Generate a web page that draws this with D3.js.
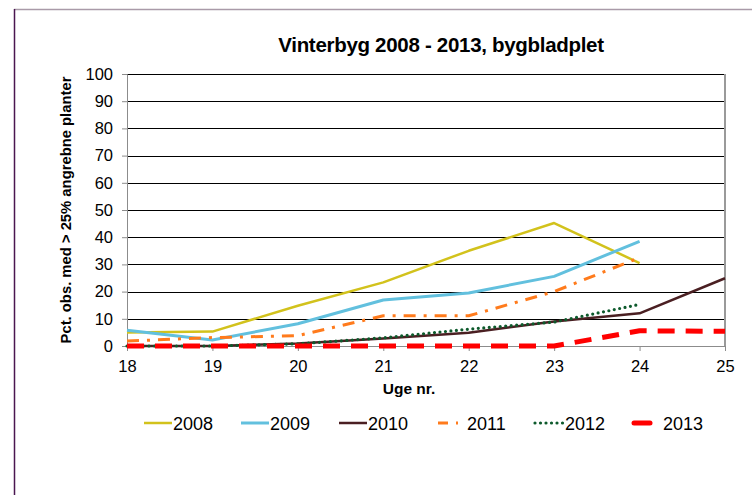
<!DOCTYPE html>
<html><head>
<meta charset="utf-8">
<script src="https://d3js.org/d3.v7.min.js"></script>
<style>
  body { margin: 0; background: #fff; }
  text { font-family: "Liberation Sans", Arial, sans-serif; fill: #000; }
  .grid line { stroke: #000; stroke-width: 1px; }
  .axis path, .axis line { stroke: #8c8c8c; }
  .axis text { font-size: 16.5px; }
</style>
</head>
<body>
<script>
// weeks on the x axis
const weeks = [18, 19, 20, 21, 22, 23, 24, 25];
const yTicks = [0, 10, 20, 30, 40, 50, 60, 70, 80, 90, 100];

// percentage values per year (null = no observation)
const s2008 = [5, 5.3, 14.8, 23.4, 35, 45.2, 30.5, null];
const s2009 = [5.8, 2.2, 8.2, 16.9, 19.5, 25.6, 38.5, null];
const s2010 = [0, 0, 0.9, 2.8, 4.9, 9, 12, 24.9];
const s2011 = [1.8, 3.1, 3.8, 11.1, 11.1, 20, 32.5, null];
const s2012 = [0, 0, 0.8, 3, 6.2, 8.8, 15.3, null];
const s2013 = [0, 0, 0, 0, 0, 0, 5.6, 5.4];

const years = ["2008", "2009", "2010", "2011", "2012", "2013"];
const values = [s2008, s2009, s2010, s2011, s2012, s2013];
const styles = [
  {color: "#d2c21c", width: 2.5, dash: null, cap: "butt"},
  {color: "#62c0de", width: 3, dash: null, cap: "butt"},
  {color: "#4a1f22", width: 2.5, dash: null, cap: "butt"},
  {color: "#ff7b1c", width: 3, dash: "12,8,3,8", cap: "butt"},
  {color: "#0d5a2c", width: 3.2, dash: "0,5.5", cap: "round"},
  {color: "#ff0000", width: 5, dash: "17,11", cap: "butt"}
];

const svg = d3.select("body").append("svg")
    .attr("width", 752)
    .attr("height", 495);

// frame of the pasted image
svg.append("line").attr("x1", 14).attr("x2", 752).attr("y1", 9.5).attr("y2", 9.5)
    .attr("stroke", "#a99aa8").attr("stroke-width", 1.5);
svg.append("line").attr("x1", 14.5).attr("x2", 14.5).attr("y1", 9).attr("y2", 495)
    .attr("stroke", "#4a1650").attr("stroke-width", 1.5);

const margin = {left: 127, right: 27, top: 74, bottom: 149};
const w = 752 - margin.left - margin.right;
const h = 495 - margin.top - margin.bottom;

const x = d3.scaleLinear().domain([18, 25]).range([0, w]);
const y = d3.scaleLinear().domain([0, 100]).range([h, 0]);

const g = svg.append("g").attr("transform", "translate(" + margin.left + "," + margin.top + ")");

// horizontal gridlines
g.append("g").attr("class", "grid")
  .selectAll("line").data(yTicks.filter(d => d > 0))
  .join("line")
    .attr("x1", 0).attr("x2", w)
    .attr("y1", d => Math.round(y(d)) + 0.5).attr("y2", d => Math.round(y(d)) + 0.5);

// right border of the plot area
g.append("line").attr("x1", w).attr("x2", w).attr("y1", 0).attr("y2", h)
    .attr("stroke", "#9a9a9a").attr("stroke-width", 2);

// axes
g.append("g").attr("class", "axis")
  .call(d3.axisLeft(y).tickValues(yTicks).tickSize(5).tickPadding(9));
g.append("g").attr("class", "axis")
  .attr("transform", "translate(0," + h + ")")
  .call(d3.axisBottom(x).tickValues(weeks).tickFormat(d3.format("d")).tickSize(5).tickPadding(9));

// series
const line = d3.line()
    .defined(d => d != null)
    .x((d, i) => x(weeks[i]))
    .y(d => y(d));

values.forEach((vals, k) => {
  const st = styles[k];
  g.append("path")
    .datum(vals)
    .attr("d", line)
    .attr("fill", "none")
    .attr("stroke", st.color)
    .attr("stroke-width", st.width)
    .attr("stroke-linecap", st.cap)
    .attr("stroke-linejoin", "round")
    .attr("stroke-dasharray", st.dash);
});

// titles
svg.append("text").attr("x", 441).attr("y", 52)
    .attr("text-anchor", "middle")
    .style("font-size", "20.5px").style("font-weight", "bold")
    .style("letter-spacing", "-0.3px")
    .text("Vinterbyg 2008 - 2013, bygbladplet");

svg.append("text")
    .attr("transform", "translate(71," + (margin.top + h / 2) + ") rotate(-90)")
    .attr("text-anchor", "middle")
    .style("font-size", "14.8px").style("font-weight", "bold")
    .text("Pct. obs. med > 25% angrebne planter");

svg.append("text").attr("x", 409).attr("y", 394)
    .attr("text-anchor", "middle")
    .style("font-size", "15.5px").style("font-weight", "bold")
    .text("Uge nr.");

// legend
const legX = [143, 240, 338, 436, 534, 632];
const legend = svg.append("g").attr("transform", "translate(0,423)");
years.forEach((yr, k) => {
  const st = styles[k];
  const item = legend.append("g").attr("transform", "translate(" + legX[k] + ",0)");
  if (k === 3) {
    item.append("line").attr("x1", 2).attr("x2", 12).attr("y1", 0).attr("y2", 0)
      .attr("stroke", st.color).attr("stroke-width", 3);
    item.append("line").attr("x1", 20).attr("x2", 22).attr("y1", 0).attr("y2", 0)
      .attr("stroke", st.color).attr("stroke-width", 3);
  } else if (k === 5) {
    item.append("line").attr("x1", 2).attr("x2", 18).attr("y1", 0).attr("y2", 0)
      .attr("stroke", st.color).attr("stroke-width", 5).attr("stroke-linecap", "round");
  } else {
    item.append("line").attr("x1", 1).attr("x2", 29).attr("y1", 0).attr("y2", 0)
      .attr("stroke", st.color).attr("stroke-width", st.width)
      .attr("stroke-linecap", st.cap)
      .attr("stroke-dasharray", st.dash);
  }
  item.append("text").attr("x", k >= 3 ? 31 : 30).attr("y", 6.5)
    .style("font-size", "18px")
    .text(yr);
});
</script>
</body></html>
